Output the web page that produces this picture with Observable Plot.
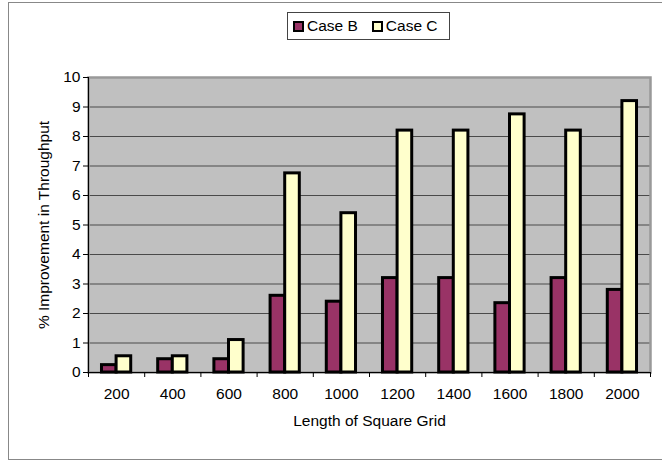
<!DOCTYPE html>
<html>
<head>
<meta charset="utf-8">
<script src="https://cdn.jsdelivr.net/npm/d3@7"></script>
<script src="https://cdn.jsdelivr.net/npm/@observablehq/plot@0.6"></script>
<style>
  body { margin: 0; background: #fff; font-family: "Liberation Sans", Arial, sans-serif; }
  #wrap { position: relative; width: 662px; height: 462px; overflow: hidden; }
  #wrap svg { position: absolute; left: 0; top: 0; }
  #outer { position: absolute; left: 8px; top: 2px; width: 700px; height: 456px; border: 1px solid #888; pointer-events: none; }
  #legend { position: absolute; left: 287px; top: 12px; width: 163px; height: 28px; border: 1px solid #444; background: #fff;
            display: flex; align-items: center; font-size: 15.5px; color: #000; box-sizing: border-box; padding-left: 5px; }
  .item { display: flex; align-items: center; }
  .item + .item { margin-left: 14px; }
  .sw { width: 7px; height: 7px; border: 2.5px solid #000; margin-right: 3px; }
</style>
</head>
<body>
<div id="wrap">
  <div id="chart"></div>
  <div id="outer"></div>
  <div id="legend"></div>
</div>
<script>
const sizes = [200, 400, 600, 800, 1000, 1200, 1400, 1600, 1800, 2000];
const caseB = [0.25, 0.45, 0.45, 2.6, 2.4, 3.2, 3.2, 2.35, 3.2, 2.8];
const caseC = [0.55, 0.55, 1.1, 6.75, 5.4, 8.2, 8.2, 8.75, 8.2, 9.2];
const seriesNames = ["Case B", "Case C"];
const seriesColors = ["#993366", "#FFFFCC"];
const yTicks = [0, 1, 2, 3, 4, 5, 6, 7, 8, 9, 10];
const gridTicks = [1, 2, 3, 4, 5, 6, 7, 8, 9];
const xBounds = [100, 300, 500, 700, 900, 1100, 1300, 1500, 1700, 1900, 2100];
const xTitle = "Length of Square Grid";
const yTitle = "% Improvement in Throughput";

const rows = sizes.map((s, i) => ({size: s, b: caseB[i], c: caseC[i]}));
const half = 52;

const chart = Plot.plot({
  width: 662,
  height: 462,
  marginTop: 77,
  marginBottom: 90,
  marginLeft: 88,
  marginRight: 12,
  style: {fontFamily: "'Liberation Sans', Arial, sans-serif", fontSize: "15.5px", color: "#000", background: "transparent"},
  x: {type: "linear", domain: [100, 2100]},
  y: {domain: [0, 10]},
  marks: [
    Plot.frame({fill: "#c0c0c0"}),
    Plot.gridY({ticks: gridTicks, stroke: "#4a4a4a", strokeOpacity: 1, strokeWidth: 1}),
    Plot.frame({stroke: "#999", strokeWidth: 2.5}),
    Plot.rectY(rows, {x1: d => d.size - half, x2: d => d.size, y: "b", fill: seriesColors[0], stroke: "#000", strokeWidth: 3}),
    Plot.rectY(rows, {x1: d => d.size, x2: d => d.size + half, y: "c", fill: seriesColors[1], stroke: "#000", strokeWidth: 3}),
    Plot.ruleX([100], {stroke: "#000", strokeWidth: 1}),
    Plot.ruleY([0], {stroke: "#000", strokeWidth: 1}),
    Plot.axisY({ticks: yTicks, tickSize: 5, tickPadding: 3, tickFormat: d => String(d),
                label: yTitle, labelAnchor: "center", labelArrow: "none", labelOffset: 51}),
    Plot.axisX({ticks: xBounds, tickSize: 5, tickFormat: () => "", label: null}),
    Plot.axisX({ticks: sizes, tickSize: 0, tickPadding: 15, tickFormat: d => String(d),
                label: xTitle, labelAnchor: "center", labelArrow: "none", labelOffset: 53})
  ]
});
document.getElementById("chart").appendChild(chart);

const legend = document.getElementById("legend");
seriesNames.forEach((name, i) => {
  const item = document.createElement("div");
  item.className = "item";
  const sw = document.createElement("div");
  sw.className = "sw";
  sw.style.background = seriesColors[i];
  const label = document.createElement("span");
  label.textContent = name;
  item.appendChild(sw);
  item.appendChild(label);
  legend.appendChild(item);
});
</script>
</body>
</html>
